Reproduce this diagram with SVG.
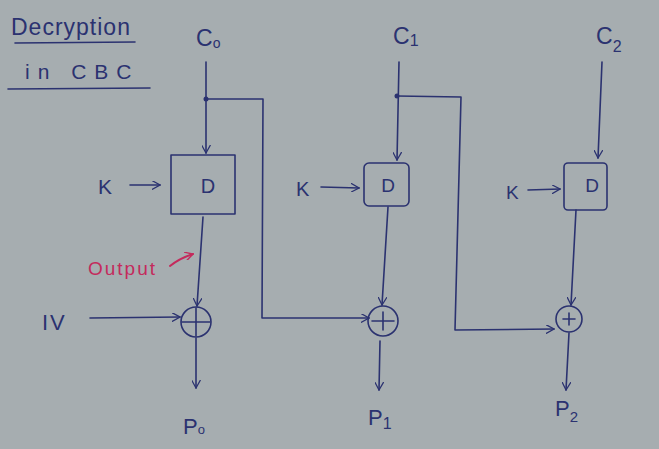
<svg xmlns="http://www.w3.org/2000/svg" width="659" height="449" viewBox="0 0 659 449">
<style>
.ink{stroke:#2b3270;stroke-width:1.6;fill:none;stroke-linecap:round;stroke-linejoin:round}
.t{font-family:"Liberation Sans","DejaVu Sans",sans-serif;fill:#2b3270}
.red{stroke:#c42a5c;stroke-width:2;fill:none;stroke-linecap:round}
</style>
<defs>
<marker id="ah" viewBox="0 0 10 10" refX="9" refY="5" markerWidth="9" markerHeight="9" orient="auto" markerUnits="userSpaceOnUse">
<path d="M0,0 L9,5 L0,10" fill="none" stroke="#2b3270" stroke-width="1.4"/>
</marker>
<marker id="ahr" viewBox="0 0 10 10" refX="9" refY="5" markerWidth="9" markerHeight="9" orient="auto" markerUnits="userSpaceOnUse">
<path d="M0,0 L9,5 L0,10" fill="none" stroke="#c42a5c" stroke-width="1.6"/>
</marker>
</defs>
<rect width="659" height="449" fill="#a6adb0"/>

<g id="title">
<text class="t" x="11" y="35" font-size="23" letter-spacing="1">Decryption</text>
<line class="ink" x1="15" y1="43" x2="135" y2="42"/>
<text class="t" x="25" y="79" font-size="21" letter-spacing="8">in CBC</text>
<line class="ink" x1="8" y1="89" x2="150" y2="88"/>
</g>

<g id="c0"><text class="t" x="196" y="46" font-size="23">C<tspan font-size="14" dy="2">o</tspan></text></g>
<g id="c1"><text class="t" x="393" y="44" font-size="23">C<tspan font-size="16" dy="2">1</tspan></text></g>
<g id="c2"><text class="t" x="596" y="44" font-size="23">C<tspan font-size="16" dy="8">2</tspan></text></g>

<g id="d0">
<rect class="ink" x="171" y="155" width="64" height="59"/>
<text class="t" x="208" y="193" font-size="20" text-anchor="middle">D</text>
</g>
<g id="d1">
<rect class="ink" x="364" y="163" width="45" height="43" rx="5"/>
<text class="t" x="388" y="192" font-size="19" text-anchor="middle">D</text>
</g>
<g id="d2">
<rect class="ink" x="564" y="163" width="43" height="47" rx="4"/>
<text class="t" x="592" y="192" font-size="19" text-anchor="middle">D</text>
</g>

<g id="k0"><text class="t" x="98" y="194" font-size="21">K</text></g>
<g id="k1"><text class="t" x="296" y="196" font-size="20">K</text></g>
<g id="k2"><text class="t" x="506" y="199" font-size="19">K</text></g>

<g id="iv"><text class="t" x="42" y="330" font-size="22" letter-spacing="2">IV</text></g>

<g id="x0"><circle class="ink" cx="196" cy="322" r="15"/><path class="ink" d="M182,322 H210 M196,308 V336"/></g>
<g id="x1"><circle class="ink" cx="383" cy="321" r="15"/><path class="ink" d="M372,321 H394 M383,312 V330"/></g>
<g id="x2"><circle class="ink" cx="569" cy="319" r="13"/><path class="ink" d="M563,319 H575 M569,313 V325"/></g>

<g id="p0"><text class="t" x="183" y="434" font-size="22">P<tspan font-size="13">o</tspan></text></g>
<g id="p1"><text class="t" x="368" y="425" font-size="22">P<tspan font-size="16" dy="4">1</tspan></text></g>
<g id="p2"><text class="t" x="555" y="416" font-size="22">P<tspan font-size="15" dy="6">2</tspan></text></g>

<g id="output">
<text x="88" y="275" font-size="19" letter-spacing="2" font-family="Liberation Sans, DejaVu Sans, sans-serif" fill="#c42a5c">Output</text>
<path class="red" d="M170,266 Q180,258 193,254" marker-end="url(#ahr)"/>
</g>

<g id="connectors">
<line class="ink" x1="206" y1="62" x2="206" y2="153" marker-end="url(#ah)"/>
<circle cx="206" cy="99" r="2.5" fill="#2b3270"/>
<polyline class="ink" points="206,99 263,99 262,318 369,318" marker-end="url(#ah)"/>
<line class="ink" x1="130" y1="185" x2="160" y2="185" marker-end="url(#ah)"/>
<line class="ink" x1="203" y1="217" x2="197" y2="306" marker-end="url(#ah)"/>
<line class="ink" x1="90" y1="318" x2="180" y2="317" marker-end="url(#ah)"/>
<line class="ink" x1="196" y1="338" x2="196" y2="388" marker-end="url(#ah)"/>

<line class="ink" x1="399" y1="62" x2="397" y2="160" marker-end="url(#ah)"/>
<circle cx="397" cy="96" r="2.5" fill="#2b3270"/>
<polyline class="ink" points="397,96 461,97 455,330 554,329" marker-end="url(#ah)"/>
<line class="ink" x1="321" y1="187" x2="359" y2="188" marker-end="url(#ah)"/>
<line class="ink" x1="388" y1="207" x2="382" y2="305" marker-end="url(#ah)"/>
<line class="ink" x1="380" y1="341" x2="379" y2="390" marker-end="url(#ah)"/>

<line class="ink" x1="602" y1="62" x2="598" y2="158" marker-end="url(#ah)"/>
<line class="ink" x1="528" y1="190" x2="560" y2="189" marker-end="url(#ah)"/>
<line class="ink" x1="576" y1="210" x2="571" y2="305" marker-end="url(#ah)"/>
<line class="ink" x1="569" y1="333" x2="566" y2="390" marker-end="url(#ah)"/>
</g>
</svg>
